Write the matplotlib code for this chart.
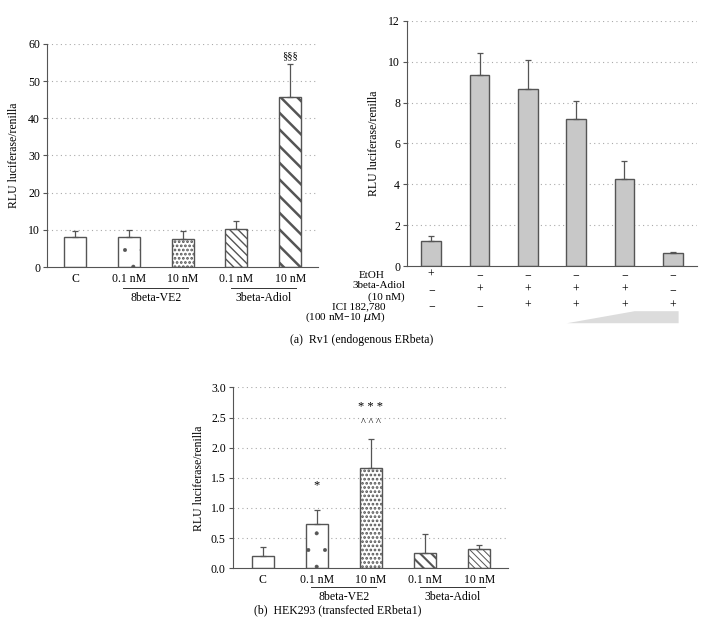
import numpy as np
import matplotlib
matplotlib.use("Agg")
import matplotlib.pyplot as plt
from matplotlib.patches import Polygon

plt.rcParams['font.family'] = ['Liberation Serif', 'DejaVu Serif']
plt.rcParams['font.size'] = 8.5

# (a) left: Rv1, two compounds
a_labels = ['C', '0.1 nM', '10 nM', '0.1 nM', '10 nM']
a_vals = [8.1, 8.1, 7.5, 10.2, 45.8]
a_err = [1.6, 1.9, 2.1, 2.1, 8.9]
a_hatch = ['', '.', '....', '\\\\\\\\', '\\\\']
a_groups = ['8beta-VE2', '3beta-Adiol']

# (a) right: Rv1 with ICI
r_vals = [1.25, 9.35, 8.65, 7.2, 4.25, 0.62]
r_err = [0.22, 1.07, 1.45, 0.87, 0.88, 0.05]
etoh = ['+', '−', '−', '−', '−', '−']
adiol = ['−', '+', '+', '+', '+', '−']
ici = ['−', '−', '+', '+', '+', '+']

# (b) HEK293
b_labels = ['C', '0.1 nM', '10 nM', '0.1 nM', '10 nM']
b_vals = [0.2, 0.74, 1.67, 0.25, 0.32]
b_err = [0.15, 0.23, 0.48, 0.31, 0.06]
b_hatch = ['', '.', '....', '\\\\\\', '\\\\\\\\\\']

edge = '#555555'
grid_c = '#aaaaaa'


def style_axis(ax, ticks):
    ax.spines['top'].set_visible(False)
    ax.spines['right'].set_visible(False)
    ax.spines['left'].set_color(edge)
    ax.spines['bottom'].set_color(edge)
    ax.set_yticks(ticks)
    ax.tick_params(axis='y', length=3, color=edge, pad=2)
    ax.tick_params(axis='x', length=0)
    for t in ticks[1:]:
        ax.axhline(t, color=grid_c, lw=0.8, ls=(0, (1, 3)), zorder=0)


def draw_bars(ax, vals, err, hatches, lws, face='white'):
    x = np.arange(len(vals))
    for i, (v, e, h) in enumerate(zip(vals, err, hatches)):
        with plt.rc_context({'hatch.linewidth': lws[i], 'hatch.color': '#222222'}):
            ax.bar(x[i], v, width=0.41, color=face, edgecolor=edge, linewidth=1.0,
                   hatch=h, zorder=2)
        ax.errorbar(x[i], v, yerr=[[0], [e]], color=edge, capsize=2.5, lw=0.9,
                    capthick=0.9, zorder=3)
    return x


def group_lines(ax, y, pairs, names, gap):
    for (i0, i1), name in zip(pairs, names):
        ax.plot([i0 - 0.1, i1 + 0.1], [y, y], color='#333333', lw=0.7,
                transform=ax.get_xaxis_transform(), clip_on=False)
        ax.text((i0 + i1) / 2, y - gap, name, ha='center', va='center',
                transform=ax.get_xaxis_transform())


fig = plt.figure(figsize=(7.23, 6.32), dpi=100)

# ---- (a) left
ax1 = fig.add_axes([0.065, 0.5775, 0.375, 0.353])
x = draw_bars(ax1, a_vals, a_err, a_hatch, [1, 0.4, 1.3, 1.0, 1.8])
ax1.set_xlim(-0.52, 4.52)
ax1.set_ylim(0, 60)
style_axis(ax1, [0, 10, 20, 30, 40, 50, 60])
ax1.set_xticks(x)
ax1.set_xticklabels(a_labels)
ax1.tick_params(axis='x', pad=4)
ax1.set_ylabel('RLU luciferase/renilla', labelpad=6)
ax1.text(4, a_vals[4] + a_err[4] + 1.0, '§§§', ha='center', va='bottom', fontsize=7.5)
group_lines(ax1, -0.095, [(1, 2), (3, 4)], a_groups, 0.045)

# ---- (a) right
ax2 = fig.add_axes([0.563, 0.579, 0.401, 0.388])
x = draw_bars(ax2, r_vals, r_err, [''] * 6, [1] * 6, face='#c8c8c8')
ax2.set_xlim(-0.5, 5.5)
ax2.set_ylim(0, 12)
style_axis(ax2, [0, 2, 4, 6, 8, 10, 12])
ax2.set_xticks([])
ax2.set_ylabel('RLU luciferase/renilla', labelpad=6)
tr = ax2.get_xaxis_transform()
for i in range(len(r_vals)):
    ax2.text(i, -0.037, etoh[i], ha='center', va='center', transform=tr)
    ax2.text(i, -0.098, adiol[i], ha='center', va='center', transform=tr)
    ax2.text(i, -0.163, ici[i], ha='center', va='center', transform=tr)
ax2.text(-0.975, -0.037, 'EtOH', ha='right', va='center', transform=tr, fontsize=8)
ax2.text(-0.54, -0.080, '3beta-Adiol', ha='right', va='center', transform=tr, fontsize=8)
ax2.text(-0.54, -0.125, '(10 nM)', ha='right', va='center', transform=tr, fontsize=8)
ax2.text(-0.95, -0.165, 'ICI 182,780', ha='right', va='center', transform=tr, fontsize=8)
ax2.text(-0.95, -0.210, '(100 nM–10 $\\mu$M)', ha='right', va='center', transform=tr,
         fontsize=8)
ax2.add_patch(Polygon([[2.81, -0.233], [4.21, -0.184], [5.12, -0.184], [5.12, -0.233]],
                      closed=True, facecolor='#dcdcdc', edgecolor='none',
                      transform=tr, clip_on=False))

fig.text(0.5, 1 - 340 / 632, '(a)  Rv1 (endogenous ERbeta)', ha='center', va='center')

# ---- (b)
ax3 = fig.add_axes([0.322, 0.101, 0.380, 0.286])
x = draw_bars(ax3, b_vals, b_err, b_hatch, [1, 0.4, 1.3, 1.5, 0.7])
ax3.set_xlim(-0.55, 4.52)
ax3.set_ylim(0, 3.0)
style_axis(ax3, [0.0, 0.5, 1.0, 1.5, 2.0, 2.5, 3.0])
ax3.set_yticklabels(['0.0', '0.5', '1.0', '1.5', '2.0', '2.5', '3.0'])
ax3.set_xticks(x)
ax3.set_xticklabels(b_labels)
ax3.tick_params(axis='x', pad=4)
ax3.set_ylabel('RLU luciferase/renilla', labelpad=4)
ax3.text(1, 1.37, '*', ha='center', va='center', fontsize=9)
ax3.text(2, 2.68, '* * *', ha='center', va='center', fontsize=9)
ax3.text(2, 2.42, '^ ^ ^', ha='center', va='center', fontsize=7.5)
group_lines(ax3, -0.105, [(1, 2), (3, 4)], a_groups, 0.055)

fig.text(338 / 723, 1 - 610 / 632, '(b)  HEK293 (transfected ERbeta1)', ha='center', va='center')

fig.savefig('out.png', dpi=100)
